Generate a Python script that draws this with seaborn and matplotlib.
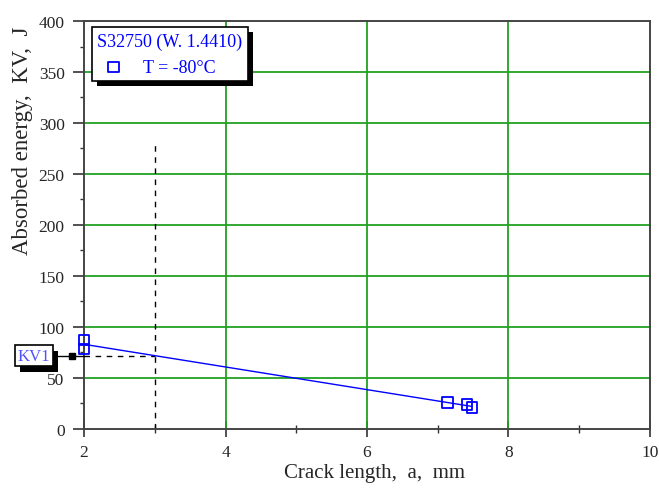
import numpy as np
import pandas as pd
import matplotlib
matplotlib.use("Agg")
import matplotlib.pyplot as plt
import matplotlib.patheffects as pe
from matplotlib.ticker import MultipleLocator
import seaborn as sns

# ---- data ----
crack_length = [2.0, 2.0, 7.14, 7.41, 7.48]
energy = [87.5, 78.5, 26.0, 24.0, 21.0]
series_label = "T = -80°C"
legend_title = "S32750 (W. 1.4410)"
a_ref = 3.0           # reference crack length for KV1
guide_top = 280       # top of vertical guide line
x_ticks = [2, 4, 6, 8, 10]
y_ticks = [0, 50, 100, 150, 200, 250, 300, 350, 400]

df = pd.DataFrame({"a": crack_length, "KV": energy})

sns.set_theme(style="white")
plt.rcParams["font.family"] = ["Liberation Serif", "DejaVu Serif"]

fig = plt.figure(figsize=(6.59, 4.89), dpi=100)
ax = fig.add_axes([0.1275, 0.1207, 0.8588, 0.8343])

blue = "#0000ff"
green = "#22a022"

# grid lines (green) at interior major ticks
for xv in x_ticks[1:-1]:
    ax.axvline(xv, color=green, lw=1.3, zorder=1)
for yv in y_ticks[1:-1]:
    ax.axhline(yv, color=green, lw=1.3, zorder=1)

# regression line
sns.regplot(data=df, x="a", y="KV", scatter=False, ci=None, truncate=True,
            ax=ax, line_kws=dict(color=blue, lw=1.0, zorder=3))

# points
sns.scatterplot(data=df, x="a", y="KV", ax=ax, marker="s", s=55,
                facecolor="none", edgecolor=blue, linewidth=1.3,
                label=series_label, zorder=4, clip_on=False)

coef = np.polyfit(crack_length, energy, 1)
kv1 = float(np.polyval(coef, a_ref))

# guide lines
ax.plot([a_ref, a_ref], [0, guide_top], color="black", lw=1.0,
        ls=(0, (4, 4)), zorder=2)
ax.plot([x_ticks[0], a_ref], [kv1, kv1], color="black", lw=1.0,
        ls=(0, (4, 4)), zorder=2)
ax.plot([1.55, x_ticks[0]], [kv1, kv1], color="black", lw=1.0,
        clip_on=False, zorder=5)
ax.plot([1.83], [kv1], marker="s", ms=4, color="black", clip_on=False,
        zorder=5)

t = ax.text(1.29, kv1, "KV1", color="#5050ff", fontsize=12,
            ha="center", va="center", clip_on=False, zorder=6,
            bbox=dict(boxstyle="square,pad=0.15", fc="white", ec="black",
                      lw=1.2))
t.get_bbox_patch().set_path_effects(
    [pe.SimplePatchShadow(offset=(3.6, -4.3), shadow_rgbFace="black",
                          alpha=1.0), pe.Normal()])

ax.set_xlim(2, 10)
ax.set_ylim(0, 400)
ax.set_xticks(x_ticks)
ax.set_yticks(y_ticks)
ax.xaxis.set_minor_locator(MultipleLocator(1))
ax.yaxis.set_minor_locator(MultipleLocator(25))
ax.tick_params(axis="x", which="major", direction="inout", length=11,
               width=1.2, color="#333333", labelsize=12.5, pad=5,
               bottom=True)
ax.tick_params(axis="x", which="minor", direction="inout", length=6,
               width=1.0, color="#333333", bottom=True)
ax.tick_params(axis="y", which="major", direction="out", length=8,
               width=1.2, color="#333333", labelsize=12.5, pad=6, left=True)
ax.tick_params(axis="y", which="minor", direction="out", length=3,
               width=1.0, color="#333333", left=True)

for sp in ax.spines.values():
    sp.set_color("#444444")
    sp.set_linewidth(1.4)

ax.set_xlabel("Crack length,  a,  mm", fontsize=15)
ax.set_ylabel("Absorbed energy,  KV,  J", fontsize=16.5)
ax.xaxis.set_label_coords(0.514, -0.084)
ax.yaxis.set_label_coords(-0.09, 0.71)

leg = ax.legend(loc="upper left", bbox_to_anchor=(0.014, 0.985),
                borderaxespad=0, title=legend_title, frameon=True,
                fancybox=False, edgecolor="black", framealpha=1,
                fontsize=13, title_fontsize=13, labelcolor=blue,
                alignment="left", handletextpad=0.7, borderpad=0.3,
                handlelength=1.8)
leg.get_title().set_color(blue)
leg.get_frame().set_linewidth(1.2)
leg.get_frame().set_path_effects(
    [pe.SimplePatchShadow(offset=(3.6, -3.6), shadow_rgbFace="black",
                          alpha=1.0), pe.Normal()])
leg.set_zorder(10)

fig.savefig("out.png", dpi=100)
